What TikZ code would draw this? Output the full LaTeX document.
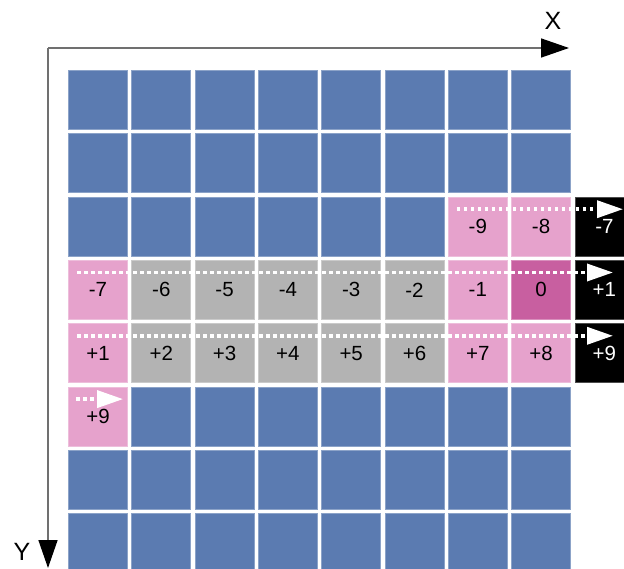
\documentclass[tikz,border=0pt]{standalone}
\usepackage{fontspec}
\setmainfont{Liberation Sans}
\usetikzlibrary{arrows.meta}

\definecolor{cellblue}{RGB}{91,123,177}
\definecolor{cellpink}{RGB}{230,162,204}
\definecolor{cellmagenta}{RGB}{200,95,160}
\definecolor{cellgray}{RGB}{179,179,179}
\definecolor{axisgray}{RGB}{112,112,112}

\tikzset{
  cell/.style={minimum size=59pt, inner sep=0pt, fill=#1, draw=#1!70!white,
               line width=0.8pt, font=\fontsize{20.5}{22}\selectfont},
  scan/.style={white, line width=3.5pt, dash pattern=on 3.5pt off 3.5pt,
               -{Triangle[length=26pt,width=17pt]}},
  axis/.style={axisgray, line width=1.5pt,
               -{Triangle[length=28pt,width=19pt,black]}},
  axislabel/.style={font=\fontsize{25}{28}\selectfont, inner sep=0pt},
}

\begin{document}
\begin{tikzpicture}[x=1pt,y=-1pt]
    % Size of the page, in pixels of the reference
    \useasboundingbox (0,0) rectangle (624,569);
    \def\pitch{63.3}

    % Axes
    \coordinate (O) at (48,48);
    \coordinate (xend) at (569,48);
    \coordinate (yend) at (48,568);
    \draw[axis] (O) -- (xend);
    \draw[axis] (O) -- (yend);
    \node[axislabel] (xlab) at (553,21) {X};
    \node[axislabel] (ylab) at (22,552) {Y};

    % Blue background cells
    \foreach \j in {1,2,7,8}
      \foreach \i in {1,...,8}
        \node[cell=cellblue] (c\i-\j) at ({98+(\i-1)*\pitch},{100+(\j-1)*\pitch}) {};
    \foreach \i in {1,...,6}
      \node[cell=cellblue] (c\i-3) at ({98+(\i-1)*\pitch},{100+2*\pitch}) {};
    \foreach \i in {2,...,8}
      \node[cell=cellblue] (c\i-6) at ({98+(\i-1)*\pitch},{100+5*\pitch}) {};

    % Gray cells of the current rows
    \foreach \i/\t in {2/-6,3/-5,4/-4,5/-3,6/-2}
      \node[cell=cellgray] (c\i-4) at ({98+(\i-1)*\pitch},{100+3*\pitch}) {\t};
    \foreach \i/\t in {2/+2,3/+3,4/+4,5/+5,6/+6}
      \node[cell=cellgray] (c\i-5) at ({98+(\i-1)*\pitch},{100+4*\pitch}) {\t};

    % Pink neighbours
    \foreach \i/\j/\t in {7/3/-9,8/3/-8,1/4/-7,7/4/-1,1/5/+1,7/5/+7,8/5/+8,1/6/+9}
      \node[cell=cellpink] (c\i-\j) at ({98+(\i-1)*\pitch},{100+(\j-1)*\pitch}) {\t};
    \node[cell=cellmagenta] (c8-4) at ({98+7*\pitch},{100+3*\pitch}) {0};

    % Black cells outside the grid
    \foreach \j/\t in {3/-7,4/+1,5/+9}
      \node[cell=black, text=white] (c9-\j) at ({98+8*\pitch},{100+(\j-1)*\pitch}) {\t};

    % Scan order
    \coordinate (s3) at ([xshift=9pt,yshift=-12.5pt]c7-3.north west);
    \coordinate (s4) at ([xshift=9pt,yshift=-12.5pt]c1-4.north west);
    \coordinate (s5) at ([xshift=9pt,yshift=-12.5pt]c1-5.north west);
    \coordinate (s6) at ([xshift=8pt,yshift=-12.5pt]c1-6.north west);
    \coordinate (e3) at ([xshift=48.5pt,yshift=-12.5pt]c9-3.north west);
    \coordinate (e4) at ([xshift=38.5pt,yshift=-12.5pt]c9-4.north west);
    \coordinate (e5) at ([xshift=38.5pt,yshift=-12.5pt]c9-5.north west);
    \coordinate (e6) at ([xshift=55pt,yshift=-12.5pt]c1-6.north west);
    \draw[scan] (s3) -- (e3);
    \draw[scan] (s4) -- (e4);
    \draw[scan] (s5) -- (e5);
    \draw[scan] (s6) -- (e6);
\end{tikzpicture}
\end{document}
